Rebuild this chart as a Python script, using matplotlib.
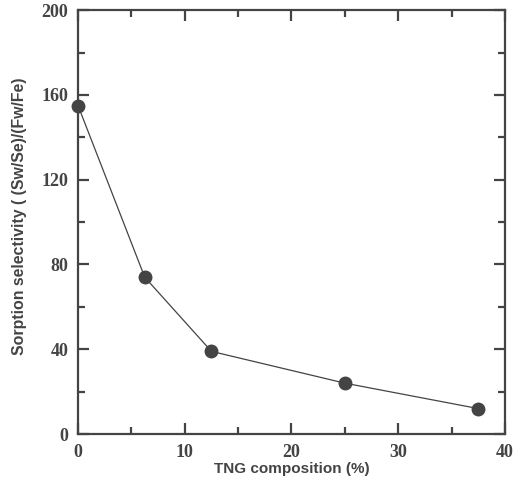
import matplotlib
matplotlib.use("Agg")
import matplotlib.pyplot as plt
from matplotlib.ticker import MultipleLocator

# TNG composition (%) vs sorption selectivity
tng = [0, 6.25, 12.5, 25, 37.5]
selectivity = [155, 74, 39, 24, 12]

dark = "#444444"

fig = plt.figure(figsize=(5.15, 4.8), dpi=100)
ax = fig.add_axes([0.1515, 0.0958, 0.829, 0.883])

ax.plot(tng, selectivity, color=dark, lw=0.9, marker="o", ms=9,
        mfc=dark, mec=dark, clip_on=False, zorder=3)

ax.set_xlim(0, 40)
ax.set_ylim(0, 200)
ax.xaxis.set_major_locator(MultipleLocator(10))
ax.xaxis.set_minor_locator(MultipleLocator(5))
ax.yaxis.set_major_locator(MultipleLocator(40))
ax.yaxis.set_minor_locator(MultipleLocator(20))

for s in ax.spines.values():
    s.set_linewidth(1.6)
    s.set_color(dark)

ax.tick_params(which="both", direction="in", top=True, right=True,
               color=dark, width=1.6)
ax.tick_params(which="major", length=8, pad=7)
ax.tick_params(which="minor", length=5)

for lab in ax.get_xticklabels() + ax.get_yticklabels():
    lab.set_fontfamily("Liberation Serif")
    lab.set_fontweight("bold")
    lab.set_fontsize(13)
    lab.set_color(dark)

ax.set_xlabel("TNG composition (%)", fontfamily="Liberation Sans",
              fontweight="bold", fontsize=11, color=dark, labelpad=1)
ax.set_ylabel("Sorption selectivity ( (Sw/Se)/(Fw/Fe)", fontfamily="Liberation Sans",
              fontweight="bold", fontsize=11.4, color=dark)
ax.yaxis.set_label_coords(-0.119, 0.514)

fig.savefig("out.png", dpi=100)
